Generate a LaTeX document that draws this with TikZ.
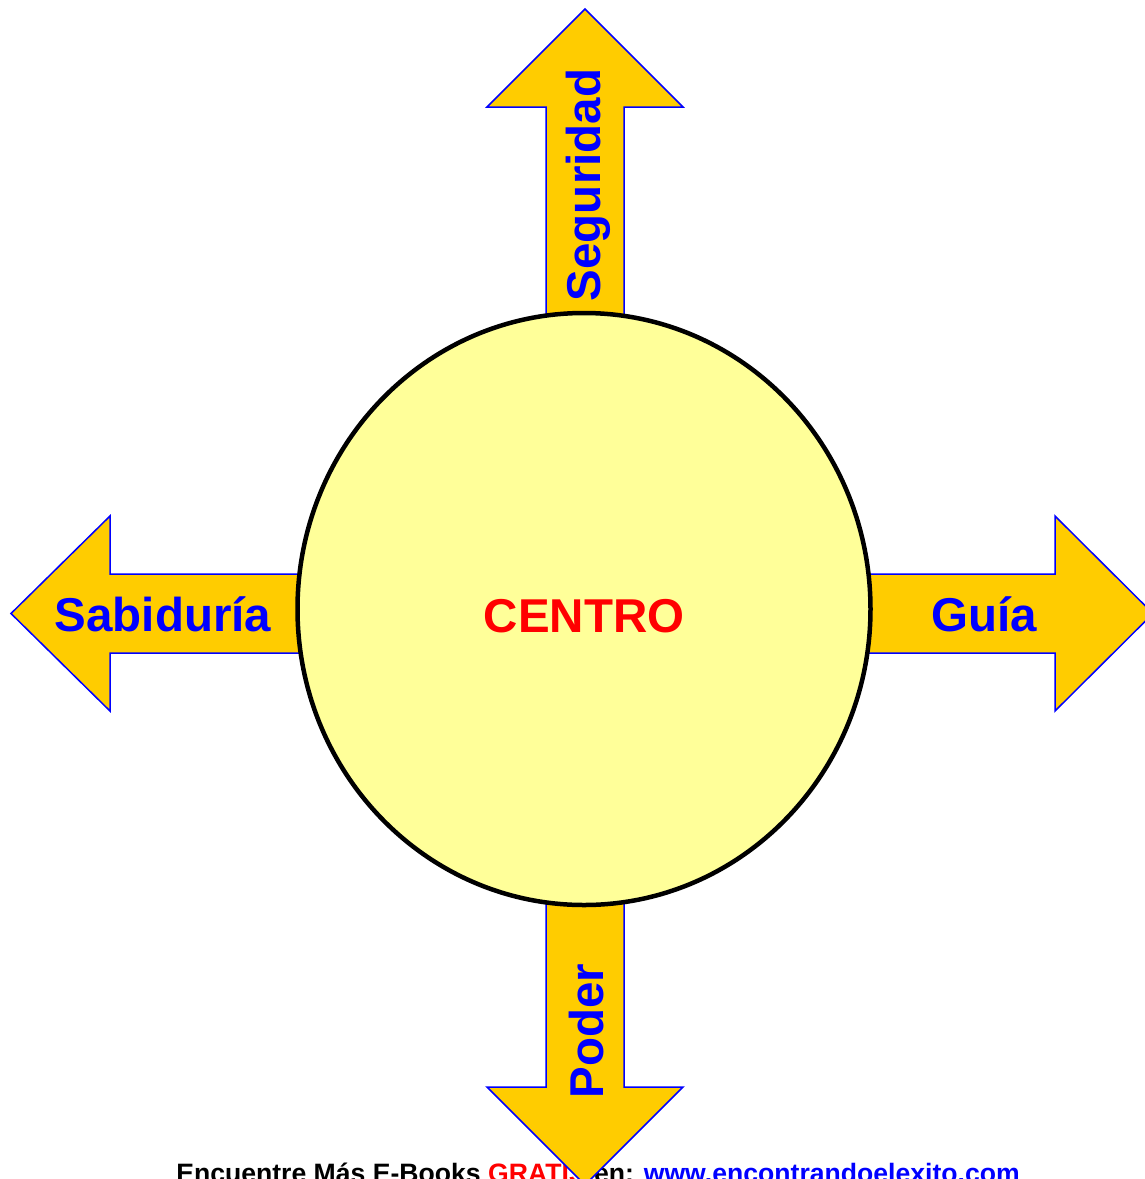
\documentclass[tikz,border=0pt]{standalone}
\usepackage{fontspec}
\setmainfont{Liberation Sans}
\usetikzlibrary{shapes.geometric}
\definecolor{flecha}{RGB}{255,204,0}
\definecolor{fondo}{RGB}{255,255,153}
\definecolor{azul}{RGB}{0,0,255}
\definecolor{rojo}{RGB}{255,0,0}

\begin{document}
\begin{tikzpicture}[x=1pt,y=1pt,yscale=-1,xscale=1,
  flechabox/.style={draw=azul,fill=flecha,line width=1.5pt,line join=miter},
  etiqueta/.style={text=azul,font=\fontsize{47.5}{56}\selectfont\bfseries,inner sep=0pt},
  centrobox/.style={ellipse,draw=black,fill=fondo,line width=4.5pt,minimum width=573pt,minimum height=592pt,inner sep=0pt,text=rojo,font=\fontsize{47.5}{56}\selectfont\bfseries,text height=46pt,text depth=0pt}]
\useasboundingbox (0,0) rectangle (1145,1179);
% Text Node
\draw (598,1182) node (pie) [anchor=base,inner sep=0pt,font=\fontsize{26.6}{32}\selectfont\bfseries] {Encuentre Más E-Books \textcolor{rojo}{GRATIS} en: \textcolor{azul}{www.encontrandoelexito.com}};
%Shape: Arrow up
\draw [flechabox] (546,340) -- (546,107) -- (487,107) -- (585,9) -- (683,107) -- (624,107) -- (624,340) -- cycle ;
%Shape: Arrow left
\draw [flechabox] (320,574) -- (110,574) -- (110,516) -- (11,613.5) -- (110,711) -- (110,653) -- (320,653) -- cycle ;
%Shape: Arrow right
\draw [flechabox] (850,574) -- (1055,574) -- (1055,516) -- (1153,613.5) -- (1055,711) -- (1055,653) -- (850,653) -- cycle ;
%Shape: Arrow down
\draw [flechabox] (546,880) -- (546,1087) -- (487,1087) -- (585,1185) -- (683,1087) -- (624,1087) -- (624,880) -- cycle ;
% Text Node
\draw (588,185) node (seguridad) [etiqueta,rotate=90] {Seguridad};
% Text Node
\draw (163,614) node (sabiduria) [etiqueta] {Sabiduría};
% Text Node
\draw (984,614) node (guia) [etiqueta] {Guía};
% Text Node
\draw (587,1031) node (poder) [etiqueta,rotate=90] {Poder};
%Shape: Ellipse
\draw (584,609) node (centro) [centrobox] {CENTRO};
\end{tikzpicture}
\end{document}
